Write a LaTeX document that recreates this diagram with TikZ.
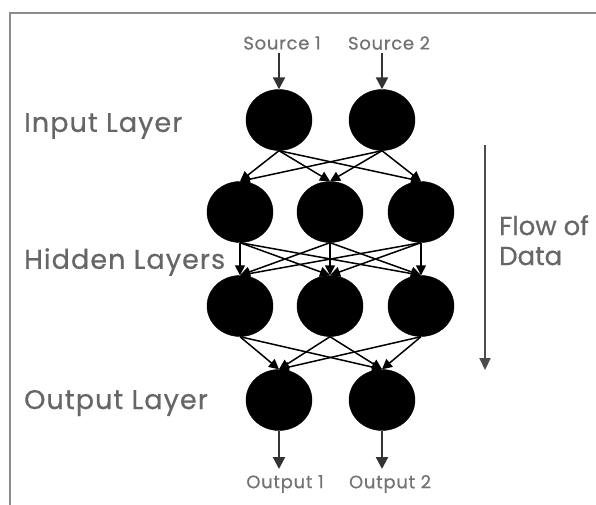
\documentclass[tikz,border=0pt]{standalone}
\usepackage{fontspec}
\setmainfont{Poppins}
\newfontfamily\widefont{Poppins}[LetterSpace=4,FakeBold=0.6]
\newfontfamily\flowfont{Poppins}[LetterSpace=0,FakeBold=0.6]
\usetikzlibrary{arrows.meta,shapes.geometric}
\begin{document}
\begin{tikzpicture}[x=1pt,y=-1pt,
  neuron/.style={ellipse,fill=black,draw=black,minimum width=66pt,minimum height=61pt,inner sep=0pt},
  link/.style={draw=black,line width=1.5pt,-{Triangle[length=10pt,width=10pt]}},
  io/.style={-{Triangle[length=12pt,width=12pt]},line width=2.2pt,draw=black!80},
  layerlabel/.style={anchor=west,text=black!60,font=\widefont\fontsize{27}{30}\selectfont,inner sep=0pt},
  smalllabel/.style={text=black!55,font=\widefont\fontsize{18}{20}\selectfont,inner sep=0pt},
  frame/.style={draw=black!45,line width=2pt}]
\useasboundingbox (0,0) rectangle (596,505);
\clip (0,0) rectangle (596,505);
% border of the panel
\draw[frame] (10,505) -- (10,13) -- (596,13);

% neurons
\node[neuron] (i1) at (279,120) {};
\node[neuron] (i2) at (382,120) {};
\node[neuron] (h1) at (240,212) {};
\node[neuron] (h2) at (330,212) {};
\node[neuron] (h3) at (421,212) {};
\node[neuron] (g1) at (240,306) {};
\node[neuron] (g2) at (330,306) {};
\node[neuron] (g3) at (421,306) {};
\node[neuron] (o1) at (279,400) {};
\node[neuron] (o2) at (382,400) {};

% inputs and outputs
\node[smalllabel] (s1) at (282,43) {Source 1};
\node[smalllabel] (s2) at (389,43) {Source 2};
\node[smalllabel] (r1) at (285,484) {Output 1};
\node[smalllabel] (r2) at (390,484) {Output 2};
\coordinate (s1b) at (279,53);
\coordinate (s2b) at (382,53);
\coordinate (r1t) at (279,469);
\coordinate (r2t) at (382,469);
\draw[io] (s1b) -- (i1);
\draw[io] (s2b) -- (i2);
\draw[io] (o1) -- (r1t);
\draw[io] (o2) -- (r2t);

% connections between layers
\foreach \a in {i1,i2}
  \foreach \b in {h1,h2,h3}
    \draw[link] (\a.south) -- (\b.north);
\foreach \a in {h1,h2,h3}
  \foreach \b in {g1,g2,g3}
    \draw[link] (\a.south) -- (\b.north);
\foreach \a in {g1,g2,g3}
  \foreach \b in {o1,o2}
    \draw[link] (\a.south) -- (\b.north);

% layer names
\node[layerlabel] (li) at (24,126) {Input Layer};
\node[layerlabel] (lh) at (24,262) {Hidden Layers};
\node[layerlabel] (lo) at (24,403) {Output Layer};

% direction of flow
\coordinate (ft) at (485,145);
\coordinate (fb) at (485,370);
\draw[line width=2.2pt,draw=black!70,-{Triangle[length=12pt,width=11pt]}] (ft) -- (fb);
\node[layerlabel,font=\flowfont\fontsize{26}{30}\selectfont,anchor=north west,align=left] (fl) at (499,215) {Flow of\\Data};
\end{tikzpicture}
\end{document}
